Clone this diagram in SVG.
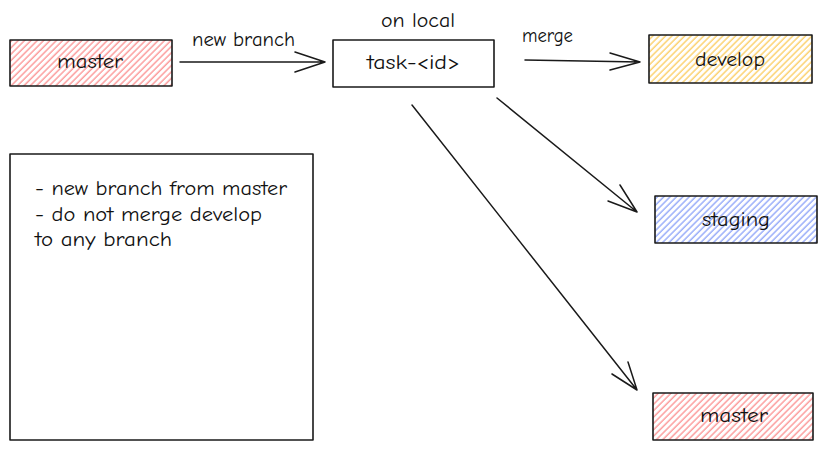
<svg xmlns="http://www.w3.org/2000/svg" width="826" height="451" viewBox="0 0 826 451">
<style>
.box{stroke:#1a1a1a;stroke-width:1.6;stroke-linejoin:round}
.lbl{font-family:"Comic Neue","Liberation Sans","DejaVu Sans",sans-serif;font-size:20px;fill:#111}
.con{stroke:#1a1a1a;stroke-width:1.5;fill:none;stroke-linecap:round;stroke-linejoin:round}
</style>
<defs>
<pattern id="hRed" patternUnits="userSpaceOnUse" width="4.5" height="4.5" patternTransform="rotate(45)">
<rect width="4.5" height="4.5" fill="#fff"/><line x1="1" y1="0" x2="1" y2="4.5" stroke="#fa5252" stroke-width="1" stroke-opacity="0.85"/>
</pattern>
<pattern id="hYel" patternUnits="userSpaceOnUse" width="4.5" height="4.5" patternTransform="rotate(45)">
<rect width="4.5" height="4.5" fill="#fff"/><line x1="1" y1="0" x2="1" y2="4.5" stroke="#fab005" stroke-width="1" stroke-opacity="0.85"/>
</pattern>
<pattern id="hBlu" patternUnits="userSpaceOnUse" width="4.5" height="4.5" patternTransform="rotate(45)">
<rect width="4.5" height="4.5" fill="#fff"/><line x1="1" y1="0" x2="1" y2="4.5" stroke="#4c6ef5" stroke-width="1" stroke-opacity="0.85"/>
</pattern>
</defs>
<rect width="826" height="451" fill="#fff"/>
<g id="connectors">
<g id="e-master-task">
<path class="con" d="M180 62 L325 62 M295 52 L325 62 L295 72"/>
<text class="lbl" x="192" y="46" textLength="103" lengthAdjust="spacingAndGlyphs">new branch</text>
</g>
<g id="e-task-develop">
<path class="con" d="M525 60 L640 62 M610 53 L640 62 L610 70"/>
<text class="lbl" x="522" y="42" textLength="51" lengthAdjust="spacingAndGlyphs">merge</text>
</g>
<g id="e-task-staging">
<path class="con" d="M497 98 L637 212 M620 185 L637 212 L608 201"/>
</g>
<g id="e-task-master">
<path class="con" d="M412 105 L637 390 M628 362 L637 390 L612 374"/>
</g>
</g>
<g id="n-master-src">
<rect class="box" x="10" y="40" width="162" height="46" fill="url(#hRed)"/>
<text class="lbl" x="57" y="68" textLength="66" lengthAdjust="spacingAndGlyphs">master</text>
</g>
<g id="n-task">
<rect class="box" x="333" y="40" width="161" height="47" fill="#fff"/>
<text class="lbl" x="367" y="69" textLength="93" lengthAdjust="spacingAndGlyphs">task-&lt;id&gt;</text>
<text class="lbl" x="381" y="27" textLength="74" lengthAdjust="spacingAndGlyphs">on local</text>
</g>
<g id="n-develop">
<rect class="box" x="649" y="35" width="163" height="48" fill="url(#hYel)"/>
<text class="lbl" x="695" y="66" textLength="70" lengthAdjust="spacingAndGlyphs">develop</text>
</g>
<g id="n-staging">
<rect class="box" x="655" y="196" width="162" height="47" fill="url(#hBlu)"/>
<text class="lbl" x="702" y="226" textLength="68" lengthAdjust="spacingAndGlyphs">staging</text>
</g>
<g id="n-master-dst">
<rect class="box" x="653" y="393" width="160" height="47" fill="url(#hRed)"/>
<text class="lbl" x="700" y="422" textLength="68" lengthAdjust="spacingAndGlyphs">master</text>
</g>
<g id="n-notes">
<rect class="box" x="10" y="154" width="303" height="286" fill="#fff"/>
<text class="lbl" x="35" y="195" textLength="252" lengthAdjust="spacingAndGlyphs">- new branch from master</text>
<text class="lbl" x="35" y="221" textLength="227" lengthAdjust="spacingAndGlyphs">- do not merge develop</text>
<text class="lbl" x="35" y="246" textLength="137" lengthAdjust="spacingAndGlyphs">to any branch</text>
</g>
</svg>
